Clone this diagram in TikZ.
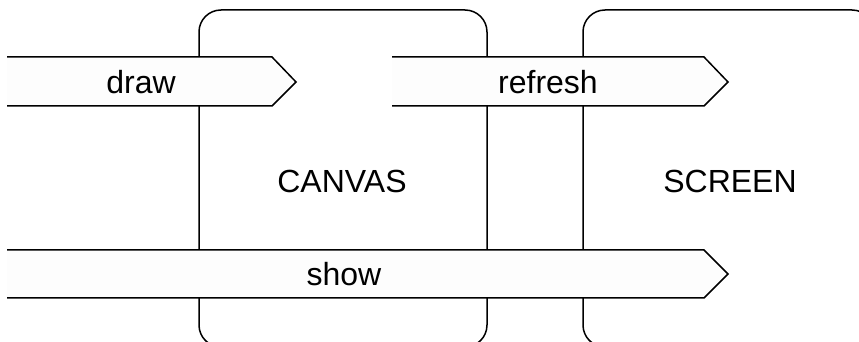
\documentclass[tikz,border=0pt]{standalone}
\usepackage{fontspec}
\setmainfont{Liberation Sans}
\usepackage{xcolor}
\definecolor{base00}{HTML}{000000}
\definecolor{base01}{HTML}{fdfdfd}
\usepackage{tikz}
\tikzset{
    pane/.style={
        draw=base00,
        line width=0.75pt,
        rounded corners=11pt
    },
    band/.style={
        draw=base00,
        fill=base01,
        line width=0.75pt
    },
    word/.style={
        font=\fontsize{16}{19}\selectfont,
        inner sep=0pt
    },
}

\begin{document}
\begin{tikzpicture}[x=0.5pt, y=-0.5pt]
        \useasboundingbox (0,0) rectangle (859,342);
        \clip (0,0) rectangle (859,342);

        % buffers
        \draw[pane] (199,10) rectangle (487,347);
        \draw[pane] (583,10) rectangle (874,347);
        \node[word] (canvas) at (342,181) {CANVAS};
        \node[word] (screen) at (730,181) {SCREEN};

        % calls
        \filldraw[band] (7,57) -- (272,57) -- (296,82) -- (272,106) -- (7,106);
        \filldraw[band] (392,57) -- (704,57) -- (728,82) -- (704,106) -- (392,106);
        \filldraw[band] (7,250) -- (704,250) -- (728,274) -- (704,298) -- (7,298);
        \node[word] (draw) at (141,82) {draw};
        \node[word] (refresh) at (548,82) {refresh};
        \node[word] (show) at (344,274) {show};
    \end{tikzpicture}
\end{document}
